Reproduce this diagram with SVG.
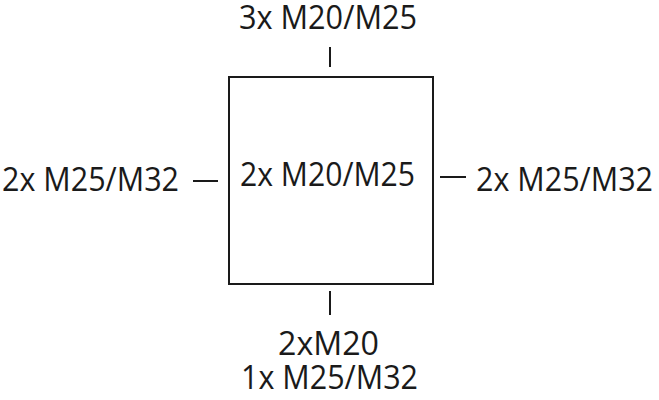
<svg xmlns="http://www.w3.org/2000/svg" width="659" height="400" viewBox="0 0 659 400">
<style>
text{font-family:"Open Sans","DejaVu Sans",sans-serif;font-size:32px;fill:#1a1a1a}
.ln{stroke:#1a1a1a;stroke-width:2;fill:none}
</style>
<rect width="659" height="400" fill="#fff"/>
<g id="box">
<rect class="ln" x="229" y="77" width="204" height="207"/>
<text x="240" y="186" textLength="175" lengthAdjust="spacingAndGlyphs">2x M20/M25</text>
</g>
<g id="top">
<text x="239" y="29" textLength="178" lengthAdjust="spacingAndGlyphs">3x M20/M25</text>
</g>
<g id="left">
<text x="2" y="191" textLength="177" lengthAdjust="spacingAndGlyphs">2x M25/M32</text>
</g>
<g id="right">
<text x="476" y="191" textLength="177" lengthAdjust="spacingAndGlyphs">2x M25/M32</text>
</g>
<g id="bottom">
<text x="278" y="355" textLength="101" lengthAdjust="spacingAndGlyphs">2xM20</text>
<text x="241" y="389" textLength="177" lengthAdjust="spacingAndGlyphs">1x M25/M32</text>
</g>
<g id="connectors">
<line class="ln" x1="330" y1="47" x2="330" y2="67"/>
<line class="ln" x1="330" y1="291" x2="330" y2="315"/>
<line class="ln" x1="193" y1="181" x2="218" y2="181"/>
<line class="ln" x1="440" y1="177" x2="466" y2="177"/>
</g>
</svg>
